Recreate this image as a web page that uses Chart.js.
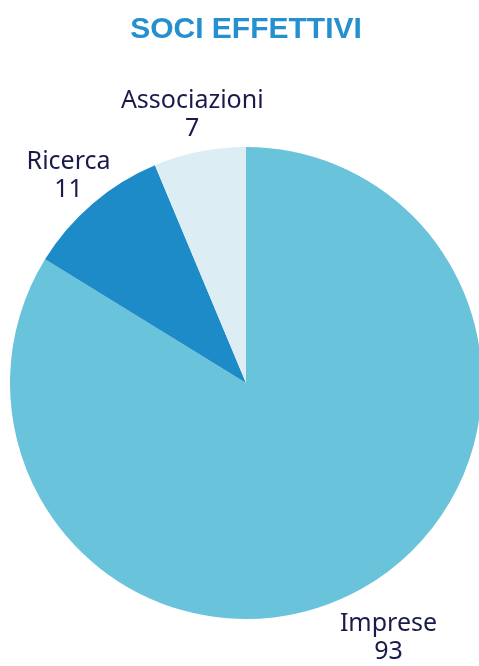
<!DOCTYPE html>
<html>
<head>
<meta charset="utf-8">
<script src="https://cdn.jsdelivr.net/npm/chart.js@4"></script>
<style>
  body { margin: 0; background: #fff; overflow: hidden; }
  #wrap { width: 482px; height: 666px; }
</style>
</head>
<body>
<div id="wrap"><canvas id="pieChart"></canvas></div>
<script>
const categories = ['Imprese', 'Ricerca', 'Associazioni'];
const members = [93, 11, 7];
const sliceColors = ['#69c3db', '#1e8bc9', '#dceef3'];

// draws "name / value" outside each slice
const outsideLabels = {
  id: 'outsideLabels',
  afterDatasetsDraw(chart) {
    const ctx = chart.ctx;
    const meta = chart.getDatasetMeta(0);
    ctx.save();
    ctx.fillStyle = '#1b1b4b';
    ctx.font = '25px "Noto Sans", sans-serif';
    ctx.textAlign = 'center';
    ctx.textBaseline = 'middle';
    meta.data.forEach((arc, i) => {
      const p = arc.getProps(['x', 'y', 'startAngle', 'endAngle', 'outerRadius'], true);
      const mid = (p.startAngle + p.endAngle) / 2;
      const dx = Math.cos(mid), dy = Math.sin(mid);
      const d = p.outerRadius + 37 + (dy > 0 ? 22 * dy : 0);
      const x = p.x + dx * d, y = p.y + dy * d;
      ctx.fillText(categories[i], x, y - 14);
      ctx.fillText(String(members[i]), x, y + 14);
    });
    ctx.restore();
  }
};

const ctx = document.getElementById('pieChart').getContext('2d');
const pieChart = new Chart(ctx, {
  type: 'pie',
  data: {
    labels: categories,
    datasets: [{
      data: members,
      backgroundColor: sliceColors,
      borderWidth: 0
    }]
  },
  options: {
    responsive: true,
    maintainAspectRatio: false,
    animation: false,
    layout: { padding: { left: 10, right: 0, top: 0, bottom: 47 } },
    plugins: {
      legend: { display: false },
      tooltip: { enabled: false },
      title: {
        display: true,
        text: 'SOCI EFFETTIVI',
        color: '#2490cf',
        font: { family: '"Liberation Sans", Arial, sans-serif', size: 30, weight: 'bold', lineHeight: 1.2 },
        padding: { top: 12, bottom: 99 }
      }
    }
  },
  plugins: [outsideLabels]
});
</script>
</body>
</html>
